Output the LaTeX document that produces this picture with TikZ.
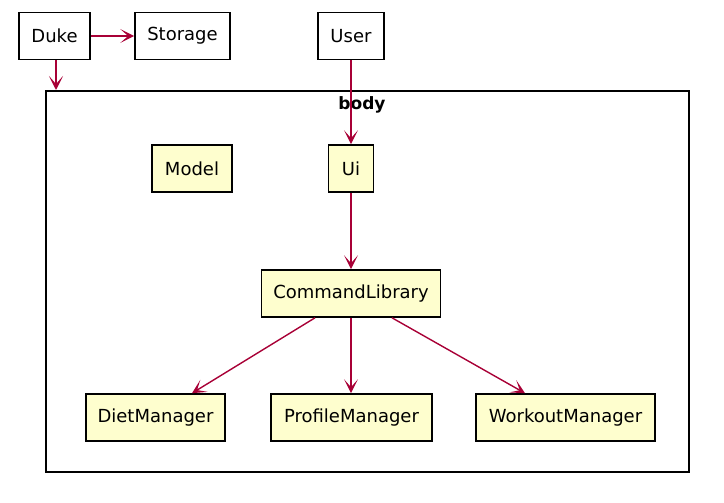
\documentclass[tikz,border=0pt]{standalone}
\usepackage{fontspec}
\setmainfont{DejaVu Sans}
\usetikzlibrary{arrows.meta}
\definecolor{umlfill}{HTML}{FEFECE}
\definecolor{umlline}{HTML}{A80036}
\begin{document}
\begin{tikzpicture}[x=1pt,y=-1pt]
        \tikzset{comp/.style = {shape=rectangle,draw,line width=1.6pt,minimum height=47pt,inner xsep=0pt,font=\fontsize{18}{21}\selectfont}};
        \tikzset{part/.style = {comp,fill=umlfill}};
        \tikzset{edge/.style = {draw=umlline,line width=1.4pt,-{Stealth[length=14pt,width=14pt,inset=8pt]}}};
        \useasboundingbox (0,0) rectangle (724,503);
        \node[draw,line width=1.6pt,minimum width=643pt,minimum height=381pt,anchor=north west] (body) at (45,90) {};
        \node[font=\bfseries\fontsize{17}{20}\selectfont] (bodylabel) at (362,105) {body};
        \node[comp,minimum width=71pt] (duke) at (54.5,36) {Duke};
        \node[comp,minimum width=95pt] (storage) at (182.5,36) {Storage};
        \node[comp,minimum width=66pt] (user) at (351,36) {User};
        \node[part,minimum width=80pt] (model) at (192,168.5) {Model};
        \node[part,minimum width=45pt] (ui) at (351,168.5) {Ui};
        \node[part,minimum width=179pt] (cmd) at (351,293.5) {CommandLibrary};
        \node[part,minimum width=139pt] (diet) at (155.5,417.5) {DietManager};
        \node[part,minimum width=161pt] (profile) at (351.5,417.5) {ProfileManager};
        \node[part,minimum width=179pt] (workout) at (565.5,417.5) {WorkoutManager};
        \draw[edge] (duke) to (storage);
        \draw[edge] (duke.south -| 56,0) to (body.north -| 56,0);
        \draw[edge] (user) to (ui);
        \draw[edge] (ui) to (cmd);
        \draw[edge] (cmd.south -| 315,0) to (diet.north -| 192,0);
        \draw[edge] (cmd.south -| 351,0) to (profile.north -| 351,0);
        \draw[edge] (cmd.south -| 392,0) to (workout.north -| 525,0);
    \end{tikzpicture}
\end{document}
